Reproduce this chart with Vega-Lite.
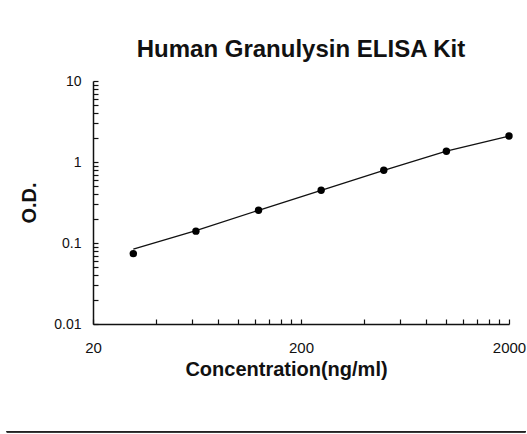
{
  "$schema": "https://vega.github.io/schema/vega-lite/v6.json",
  "autosize": {"type": "none"},
  "padding": {"left": 93, "top": 81, "right": 18, "bottom": 110},
  "width": 416,
  "height": 243,
  "background": "white",
  "title": {
    "text": "Human Granulysin ELISA Kit",
    "font": "Liberation Sans",
    "fontSize": 24,
    "fontWeight": "bold",
    "color": "#111111",
    "offset": 12
  },
  "config": {
    "view": {"stroke": null},
    "font": "Liberation Sans",
    "axis": {
      "grid": false,
      "domainColor": "#111111",
      "domainWidth": 1.5,
      "tickColor": "#111111",
      "tickWidth": 1.2,
      "labelColor": "#111111",
      "titleColor": "#111111",
      "labelFont": "Liberation Sans",
      "titleFont": "Liberation Sans",
      "titleFontWeight": "bold"
    }
  },
  "data": {
    "values": [
      {"conc": 31.25, "od": 0.074, "fit": 0.084},
      {"conc": 62.5, "od": 0.140, "fit": 0.142},
      {"conc": 125, "od": 0.254, "fit": 0.253},
      {"conc": 250, "od": 0.449, "fit": 0.447},
      {"conc": 500, "od": 0.791, "fit": 0.786},
      {"conc": 1000, "od": 1.355, "fit": 1.36},
      {"conc": 2000, "od": 2.09, "fit": 2.09}
    ]
  },
  "encoding": {
    "x": {
      "field": "conc",
      "type": "quantitative",
      "scale": {"type": "log", "domain": [20, 2000], "nice": false},
      "axis": {
        "title": "Concentration(ng/ml)",
        "titleFontSize": 20,
        "titleX": 193,
        "titlePadding": 4,
        "values": [20, 40, 60, 80, 100, 120, 140, 160, 180, 200, 400, 600, 800, 1000, 1200, 1400, 1600, 1800, 2000],
        "labelExpr": "datum.value == 20 || datum.value == 200 || datum.value == 2000 ? format(datum.value, 'd') : ''",
        "labelFontSize": 15,
        "tickSize": -5,
        "labelPadding": 21,
        "labelFlush": false,
        "labelOverlap": false
      }
    },
    "y": {
      "type": "quantitative",
      "scale": {"type": "log", "domain": [0.01, 10], "nice": false},
      "axis": {
        "title": "O.D.",
        "titleFontSize": 20,
        "titlePadding": 14,
        "values": [0.01, 0.02, 0.03, 0.04, 0.05, 0.06, 0.07, 0.08, 0.09, 0.1, 0.2, 0.3, 0.4, 0.5, 0.6, 0.7, 0.8, 0.9, 1, 2, 3, 4, 5, 6, 7, 8, 9, 10],
        "labelExpr": "datum.value == 0.01 ? '0.01' : datum.value == 0.1 ? '0.1' : datum.value == 1 ? '1' : datum.value == 10 ? '10' : ''",
        "labelFontSize": 14,
        "tickSize": -5,
        "labelPadding": 17,
        "labelFlush": false,
        "labelOverlap": false
      }
    }
  },
  "layer": [
    {
      "mark": {"type": "line", "color": "#111111", "strokeWidth": 1.3},
      "encoding": {"y": {"field": "fit", "type": "quantitative"}}
    },
    {
      "mark": {"type": "point", "filled": true, "color": "#000000", "opacity": 1, "size": 55},
      "encoding": {"y": {"field": "od", "type": "quantitative"}}
    },
    {
      "mark": {"type": "rule", "color": "#222222", "strokeWidth": 1.3, "clip": false},
      "encoding": {
        "x": {"datum": 7.7},
        "x2": {"datum": 2400},
        "y": {"datum": 0.00047}
      }
    }
  ]
}
